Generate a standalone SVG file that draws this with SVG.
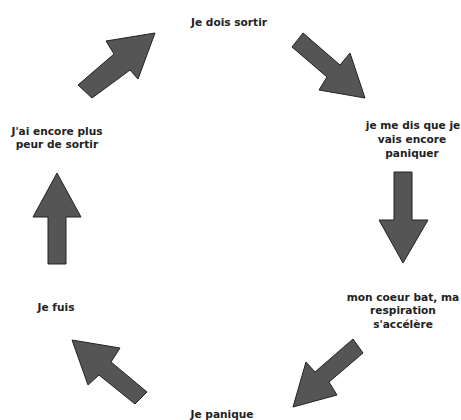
<svg xmlns="http://www.w3.org/2000/svg" width="461" height="420" viewBox="0 0 461 420">
<style>
.lbl{font-family:"DejaVu Sans","Liberation Sans",sans-serif;font-weight:bold;font-size:10.6px;fill:#222;text-anchor:middle}
.arr{fill:#555555;stroke:#222222;stroke-width:1;stroke-linejoin:miter}
</style>
<rect width="461" height="420" fill="#ffffff"/>
<g id="n1"><text class="lbl" x="229" y="26">Je dois sortir</text></g>
<g id="n2"><text class="lbl" x="413" y="129">je me dis que je</text><text class="lbl" x="412" y="143">vais encore</text><text class="lbl" x="412" y="157">paniquer</text></g>
<g id="n3"><text class="lbl" x="403" y="301">mon coeur bat, ma</text><text class="lbl" x="403" y="314">respiration</text><text class="lbl" x="403" y="328">s'accélère</text></g>
<g id="n4"><text class="lbl" x="222" y="418">Je panique</text></g>
<g id="n5"><text class="lbl" x="56" y="311">Je fuis</text></g>
<g id="n6"><text class="lbl" x="57" y="135">J'ai encore plus</text><text class="lbl" x="57" y="148">peur de sortir</text></g>
<g id="connectors">
<polygon class="arr" points="78,85 114,54 106,41 155,33 138,79 130,70 92,98"/>
<polygon class="arr" points="303,33 340,65 350,53 365,98 319,90 327,77 292,47"/>
<polygon class="arr" points="394,172 412,172 412,220 428,220 403,263 379,220 394,220"/>
<polygon class="arr" points="353,339 315,372 306,362 293,407 337,395 329,382 363,353"/>
<polygon class="arr" points="147,392 111,362 120,348 72,340 88,385 99,375 135,404"/>
<polygon class="arr" points="48,264 48,217 33,217 57,173 81,217 66,217 66,264"/>
</g>
</svg>
